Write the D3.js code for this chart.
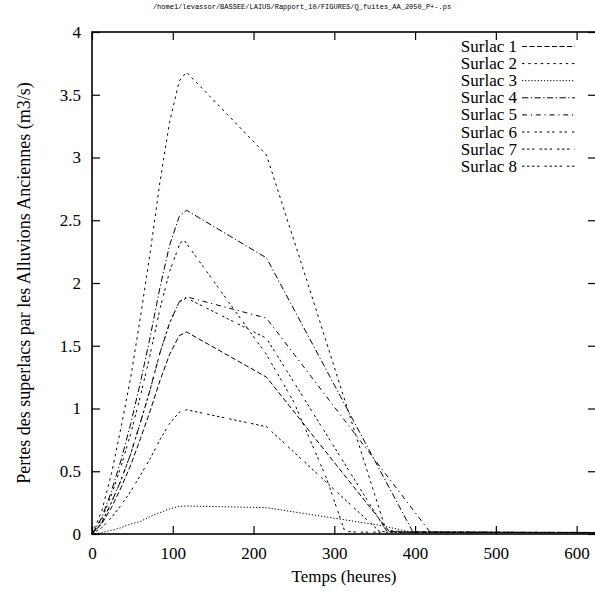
<!DOCTYPE html>
<html>
<head>
<meta charset="utf-8">
<script src="https://cdn.jsdelivr.net/npm/d3@7"></script>
<style>
  body { margin: 0; background: #fff; }
  svg { display: block; }
  text { font-family: "Liberation Serif", "Times New Roman", serif; fill: #000; }
</style>
</head>
<body>
<svg id="chart" width="595" height="593"></svg>
<script>
// values: [hours, m3/s]
const names = ["Surlac 1", "Surlac 2", "Surlac 3", "Surlac 4", "Surlac 5", "Surlac 6", "Surlac 7", "Surlac 8"];

const surlac1 = [[0,0],[12,0.08],[24,0.21],[36,0.37],[48,0.55],[60,0.76],[72,0.98],[84,1.22],[96,1.43],[108,1.58],[117,1.61],[216,1.25],[368,0.02],[380,0.015],[624,0.012]];
const surlac2 = [[0,0],[12,0.18],[24,0.48],[36,0.85],[48,1.25],[60,1.73],[72,2.24],[84,2.80],[96,3.28],[108,3.61],[117,3.68],[216,3.02],[266,2.02],[364,0.03],[390,0.015],[624,0.01]];
const surlac3 = [[0,0],[12,0.01],[24,0.03],[36,0.05],[48,0.08],[60,0.10],[72,0.14],[84,0.17],[96,0.20],[108,0.22],[117,0.223],[216,0.21],[356,0.07],[395,0.015],[624,0.01]];
const surlac4 = [[0,0],[12,0.13],[24,0.34],[36,0.59],[48,0.88],[60,1.21],[72,1.57],[84,1.96],[96,2.30],[108,2.53],[117,2.58],[216,2.20],[397,0.02],[410,0.015],[624,0.012]];
const surlac5 = [[0,0],[12,0.09],[24,0.25],[36,0.43],[48,0.64],[60,0.89],[72,1.15],[84,1.44],[96,1.68],[108,1.85],[117,1.89],[216,1.72],[418,0.02],[430,0.015],[624,0.01]];
const surlac6 = [[0,0],[12,0.12],[24,0.31],[36,0.54],[48,0.80],[60,1.10],[72,1.43],[84,1.79],[96,2.09],[108,2.30],[113,2.35],[216,1.43],[250,1.05],[290,0.45],[313,0.02],[330,0.015],[624,0.012]];
const surlac7 = [[0,0],[12,0.09],[24,0.25],[36,0.43],[48,0.64],[60,0.89],[72,1.15],[84,1.44],[96,1.68],[108,1.85],[117,1.88],[216,1.56],[365,0.02],[380,0.015],[624,0.01]];
const surlac8 = [[0,0],[12,0.05],[24,0.13],[36,0.23],[48,0.34],[60,0.47],[72,0.60],[84,0.75],[96,0.88],[108,0.97],[117,0.99],[216,0.855],[356,0.02],[375,0.015],[624,0.012]];

const xTicks = [0, 100, 200, 300, 400, 500, 600];
const yTicks = [0, 0.5, 1, 1.5, 2, 2.5, 3, 3.5, 4];

const series = [surlac1, surlac2, surlac3, surlac4, surlac5, surlac6, surlac7, surlac8];

// gnuplot postscript dash patterns, dl = 1.25px
const dl = 1.25;
const dashes = [
  [4, 2], [2, 3], [1, 1.5], [5, 2, 1, 2], [4, 3, 1, 3],
  [2, 2, 2, 4], [2, 2, 2, 2, 2, 4], [2, 2, 2, 2, 2, 2, 2, 4]
].map(p => p.map(v => v * dl).join(","));

// plot box (window.top is read-only, so no "top" here)
const plotL = 92, plotR = 596, plotT = 32, plotB = 534;

var svg = d3.select("#chart");

var x = d3.scaleLinear().domain([0, 624]).range([plotL, plotR]);
var y = d3.scaleLinear().domain([0, 4]).range([plotB, plotT]);

// title
svg.append("text")
  .attr("x", 302).attr("y", 9)
  .attr("text-anchor", "middle")
  .style("font-family", "'Liberation Mono', 'DejaVu Sans Mono', monospace")
  .style("font-size", "7px")
  .text("/home1/levassor/BASSEE/LAIUS/Rapport_10/FIGURES/Q_fuites_AA_2050_P+-.ps");

// axes, ticks drawn inward on all four sides
function styleAxis(g) {
  g.select(".domain").remove();
  g.selectAll("line").attr("stroke", "#000").attr("stroke-width", 1.2);
  g.selectAll("text").style("font-family", "'Liberation Serif', serif").style("font-size", "17px");
}

svg.append("g")
  .attr("transform", `translate(0,${plotB})`)
  .call(d3.axisBottom(x).tickValues(xTicks).tickSize(-8).tickPadding(13).tickFormat(d3.format("d")))
  .call(styleAxis);

svg.append("g")
  .attr("transform", `translate(0,${plotT})`)
  .call(d3.axisTop(x).tickValues(xTicks).tickSize(-8).tickFormat(""))
  .call(styleAxis);

svg.append("g")
  .attr("transform", `translate(${plotL},0)`)
  .call(d3.axisLeft(y).tickValues(yTicks).tickSize(-8).tickPadding(11).tickFormat(d => d))
  .call(styleAxis);

svg.append("g")
  .attr("transform", `translate(${plotR},0)`)
  .call(d3.axisRight(y).tickValues(yTicks).tickSize(-8).tickFormat(""))
  .call(styleAxis);

// curves
var line = d3.line()
  .x(d => x(d[0]))
  .y(d => y(d[1]));

svg.append("g")
  .selectAll("path")
  .data(series).enter()
  .append("path")
  .attr("d", line)
  .attr("fill", "none")
  .attr("stroke", "#000")
  .attr("stroke-width", 1)
  .attr("stroke-dasharray", (d, i) => dashes[i]);

// frame
svg.append("rect")
  .attr("x", plotL).attr("y", plotT)
  .attr("width", plotR - plotL).attr("height", plotB - plotT)
  .attr("fill", "none")
  .attr("stroke", "#000")
  .attr("stroke-width", 1.6);

// legend
var legend = svg.append("g")
  .selectAll("g")
  .data(names).enter()
  .append("g")
  .attr("transform", (d, i) => `translate(0,${46.5 + i * 17.1})`);

legend.append("text")
  .attr("x", 517).attr("y", 5.5)
  .attr("text-anchor", "end")
  .style("font-size", "17px")
  .text(d => d);

legend.append("line")
  .attr("x1", 522).attr("x2", 575)
  .attr("y1", 0).attr("y2", 0)
  .attr("stroke", "#000")
  .attr("stroke-width", 1)
  .attr("stroke-dasharray", (d, i) => dashes[i]);

// axis titles
svg.append("text")
  .attr("x", (plotL + plotR) / 2).attr("y", 582)
  .attr("text-anchor", "middle")
  .style("font-size", "17px")
  .text("Temps (heures)");

svg.append("text")
  .attr("transform", `translate(30,${(plotT + plotB) / 2}) rotate(-90)`)
  .attr("text-anchor", "middle")
  .style("font-size", "18px")
  .text("Pertes des superlacs par les Alluvions Anciennes (m3/s)");
</script>
</body>
</html>
